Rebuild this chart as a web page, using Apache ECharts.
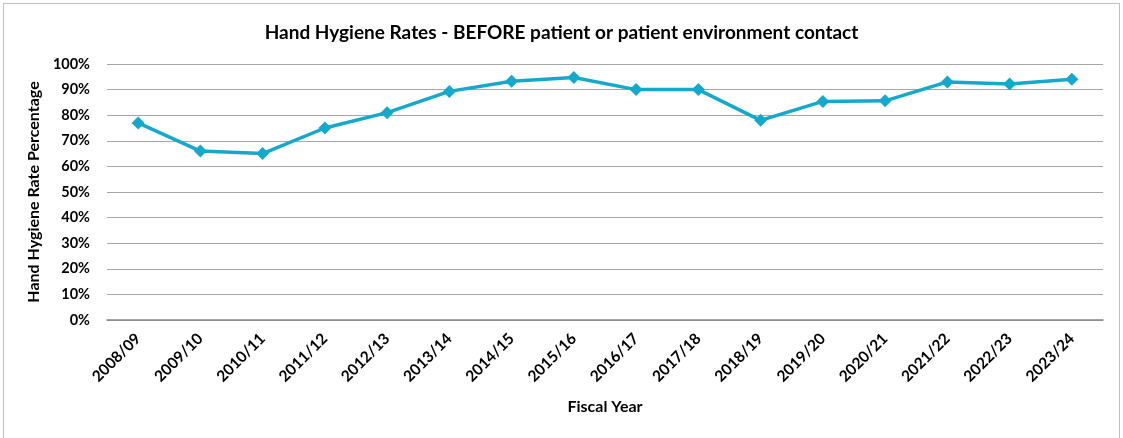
<!DOCTYPE html>
<html>
<head>
<meta charset="utf-8">
<script src="https://cdn.jsdelivr.net/npm/echarts@6/dist/echarts.min.js"></script>
<style>
  html, body { margin: 0; padding: 0; background: #fff; }
  #frame {
    position: absolute; left: 3px; top: 3px;
    width: 1117px; height: 440px;
    border: 1px solid #bfbfbf; box-sizing: border-box;
  }
  #main { position: absolute; left: 0; top: 0; width: 1123px; height: 438px; }
</style>
</head>
<body>
<div id="frame"></div>
<div id="main"></div>
<script>
  // fiscal years and hand hygiene rate (%) before patient contact
  var fiscalYears = [
    "2008/09", "2009/10", "2010/11", "2011/12", "2012/13", "2013/14",
    "2014/15", "2015/16", "2016/17", "2017/18", "2018/19", "2019/20",
    "2020/21", "2021/22", "2022/23", "2023/24"
  ];
  var hygieneRates = [77, 66, 65, 75, 81, 89.3, 93.3, 94.7, 90, 90, 78, 85.4, 85.6, 93, 92.2, 94];

  var chartDom = document.getElementById("main");
  var myChart = echarts.init(chartDom);
  var font = "Lato, 'Liberation Sans', sans-serif";

  var option = {
    backgroundColor: "transparent",
    title: {
      text: "Hand Hygiene Rates - BEFORE patient or patient environment contact",
      left: "center",
      top: 18,
      textStyle: { fontFamily: font, fontWeight: "bold", fontSize: 19, color: "#000" }
    },
    grid: { left: 107, right: 20, top: 64, bottom: 118 },
    xAxis: {
      type: "category",
      data: fiscalYears,
      name: "Fiscal Year",
      nameLocation: "middle",
      nameGap: 79,
      nameTextStyle: { fontFamily: font, fontWeight: "bold", fontSize: 16, color: "#000" },
      axisLine: { lineStyle: { color: "#868686", width: 1.5 } },
      axisTick: { show: false },
      axisLabel: {
        rotate: 45,
        margin: 16,
        fontFamily: font,
        fontWeight: "bold",
        fontSize: 15.5,
        color: "#000"
      }
    },
    yAxis: {
      type: "value",
      min: 0,
      max: 100,
      interval: 10,
      name: "Hand Hygiene Rate Percentage",
      nameLocation: "middle",
      nameGap: 62,
      nameTextStyle: { fontFamily: font, fontWeight: "bold", fontSize: 16, color: "#000" },
      axisLine: { show: false },
      axisTick: { show: false },
      axisLabel: {
        formatter: "{value}%",
        margin: 17,
        fontFamily: font,
        fontWeight: "bold",
        fontSize: 14.5,
        color: "#000"
      },
      splitLine: { lineStyle: { color: "#a6a6a6", width: 1 } }
    },
    series: [
      {
        type: "line",
        data: hygieneRates,
        symbol: "diamond",
        symbolSize: 13,
        lineStyle: { color: "#14a9cc", width: 3.5 },
        itemStyle: { color: "#14a9cc" },
        animation: false
      }
    ]
  };

  myChart.setOption(option);
</script>
</body>
</html>
